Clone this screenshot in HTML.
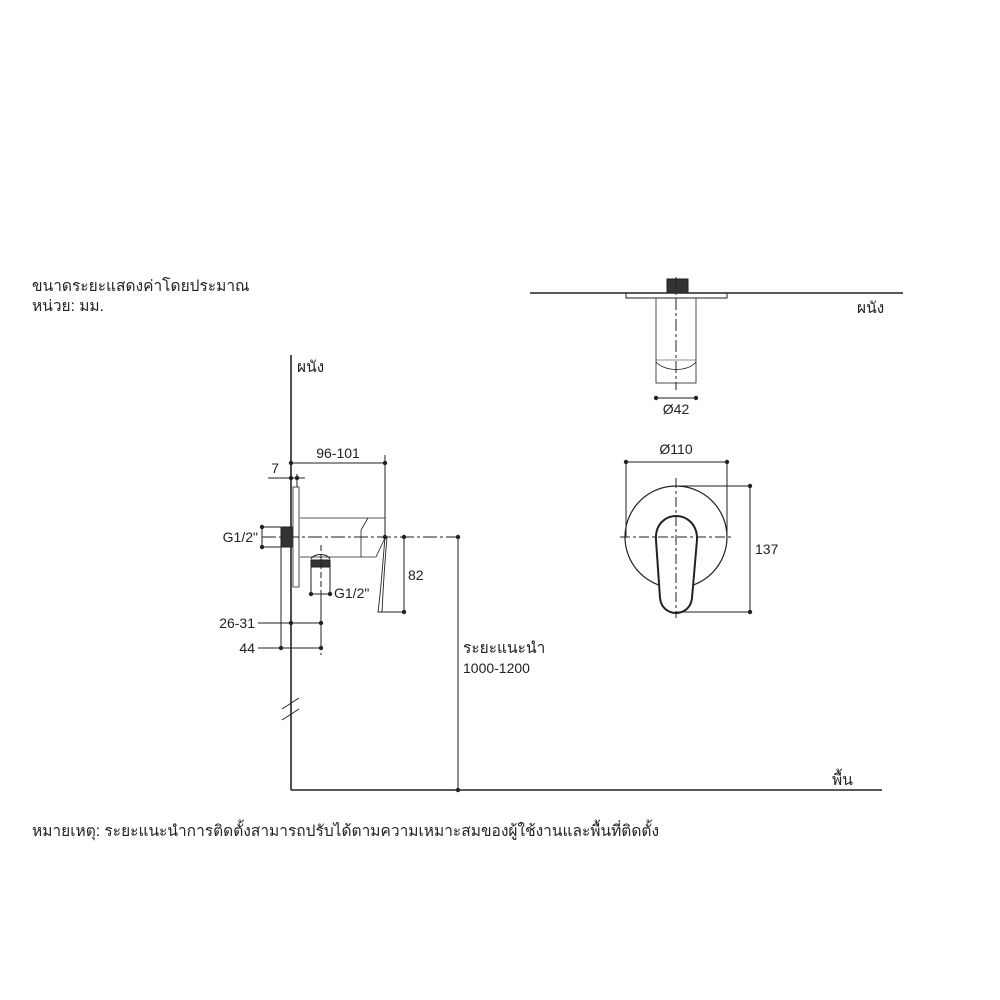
<!DOCTYPE html>
<html><head><meta charset="utf-8"><style>
html,body{margin:0;padding:0;background:#fff;}
svg{display:block;}
text{font-family:"Liberation Sans","DejaVu Sans",sans-serif;font-size:14px;fill:#222;}
text.th{font-size:15.5px;}
</style></head><body>
<svg width="1000" height="1000" viewBox="0 0 1000 1000" xmlns="http://www.w3.org/2000/svg">
<g stroke="#222" fill="none" stroke-width="1">
<line x1="291" y1="355" x2="291" y2="790" stroke-width="1.6"/>
<line x1="291" y1="790" x2="882" y2="790" stroke-width="1.6"/>
<line x1="282" y1="709" x2="299" y2="698"/>
<line x1="282" y1="720" x2="299" y2="709"/>
<rect x="293" y="487" width="6" height="100" stroke-width="0.8"/>
<line x1="268" y1="478" x2="305" y2="478"/>
<line x1="297" y1="474" x2="297" y2="487"/>
<line x1="291" y1="463" x2="385" y2="463"/>
<line x1="385" y1="455" x2="385" y2="537"/>
<path d="M300,518 H385" stroke-width="0.8"/>
<path d="M361,557 V530 L368,518" stroke-width="0.8"/>
<path d="M300,557 H376 L385,538" stroke-width="0.8"/>
<path d="M385,537 C383,560 381,590 378,612 H382 C383,590 385,560 387,537" stroke-width="0.9"/>
<line x1="262" y1="537" x2="462" y2="537" stroke-dasharray="14,3,3,3"/>
<rect x="281" y="527" width="11" height="20" fill="#333"/>
<line x1="262" y1="527" x2="281" y2="527"/>
<line x1="262" y1="547" x2="281" y2="547"/>
<line x1="262" y1="527" x2="262" y2="547"/>
<rect x="311" y="560" width="19" height="7" fill="#333"/>
<path d="M311,559 C314,553 327,553 330,559" />
<line x1="321" y1="545" x2="321" y2="655" stroke-dasharray="6,3"/>
<line x1="311" y1="567" x2="311" y2="594"/>
<line x1="330" y1="567" x2="330" y2="594"/>
<line x1="311" y1="594" x2="330" y2="594"/>
<line x1="321" y1="594" x2="321" y2="648"/>
<line x1="258" y1="623" x2="321" y2="623"/>
<line x1="258" y1="648" x2="321" y2="648"/>
<line x1="281" y1="547" x2="281" y2="648"/>
<line x1="404" y1="537" x2="404" y2="612"/>
<line x1="382" y1="612" x2="404" y2="612"/>
<line x1="458" y1="537" x2="458" y2="790"/>
<line x1="530" y1="293" x2="903" y2="293" stroke-width="1.4"/>
<rect x="626" y="293" width="101" height="5"/>
<rect x="667" y="279" width="21" height="14" fill="#333"/>
<rect x="656" y="298" width="40" height="85" stroke-width="0.8"/>
<path d="M656,362 C665,372 688,372 696,362" stroke-width="0.8"/>
<line x1="656" y1="360" x2="696" y2="360" stroke-width="0.5"/>
<line x1="676" y1="277" x2="676" y2="390" stroke-dasharray="12,3,3,3"/>
<line x1="656" y1="398" x2="696" y2="398"/>
<line x1="626" y1="462" x2="727" y2="462"/>
<line x1="626" y1="462" x2="626" y2="537"/>
<line x1="727" y1="462" x2="727" y2="537"/>
<circle cx="676" cy="537" r="51" stroke-width="1.2"/>
<path d="M656,540 C654,508 698,508 697,540 L692,598 C690,618 662,618 660,598 Z" fill="#fff" stroke-width="2"/>
<line x1="620" y1="537" x2="732" y2="537" stroke-dasharray="10,3,3,3"/>
<line x1="676" y1="478" x2="676" y2="618" stroke-dasharray="10,3,3,3"/>
<line x1="676" y1="486" x2="752" y2="486"/>
<line x1="676" y1="612" x2="752" y2="612"/>
<line x1="750" y1="486" x2="750" y2="612"/>
</g>
<g fill="#222">
<circle cx="291" cy="463" r="2.2"/><circle cx="385" cy="463" r="2.2"/>
<circle cx="291" cy="478" r="2.2"/><circle cx="297" cy="478" r="2.2"/>
<circle cx="262" cy="527" r="2.2"/><circle cx="262" cy="547" r="2.2"/>
<circle cx="311" cy="594" r="2.2"/><circle cx="330" cy="594" r="2.2"/>
<circle cx="291" cy="623" r="2.2"/><circle cx="321" cy="623" r="2.2"/>
<circle cx="281" cy="648" r="2.2"/><circle cx="321" cy="648" r="2.2"/>
<circle cx="385" cy="537" r="2.2"/><circle cx="404" cy="537" r="2.2"/><circle cx="404" cy="612" r="2.2"/>
<circle cx="458" cy="537" r="2.2"/><circle cx="458" cy="790" r="2.2"/>
<circle cx="656" cy="398" r="2.2"/><circle cx="696" cy="398" r="2.2"/>
<circle cx="626" cy="462" r="2.2"/><circle cx="727" cy="462" r="2.2"/>
<circle cx="750" cy="486" r="2.2"/><circle cx="750" cy="612" r="2.2"/>
</g>
<text class="th" x="32" y="291">ขนาดระยะแสดงค่าโดยประมาณ</text>
<text class="th" x="32" y="311">หน่วย: มม.</text>
<text class="th" x="297" y="372">ผนัง</text>
<text class="th" x="857" y="313">ผนัง</text>
<text class="th" x="832" y="785">พื้น</text>
<text x="338" y="458" text-anchor="middle">96-101</text>
<text x="279" y="473" text-anchor="end">7</text>
<text x="258" y="542" text-anchor="end">G1/2"</text>
<text x="334" y="598">G1/2"</text>
<text x="255" y="628" text-anchor="end">26-31</text>
<text x="255" y="653" text-anchor="end">44</text>
<text x="408" y="580">82</text>
<text class="th" x="463" y="653">ระยะแนะนำ</text>
<text x="463" y="673">1000-1200</text>
<text x="676" y="414" text-anchor="middle">Ø42</text>
<text x="676" y="454" text-anchor="middle">Ø110</text>
<text x="755" y="554">137</text>
<text class="th" x="32" y="836">หมายเหตุ: ระยะแนะนำการติดตั้งสามารถปรับได้ตามความเหมาะสมของผู้ใช้งานและพื้นที่ติดตั้ง</text>
</svg>
</body></html>
